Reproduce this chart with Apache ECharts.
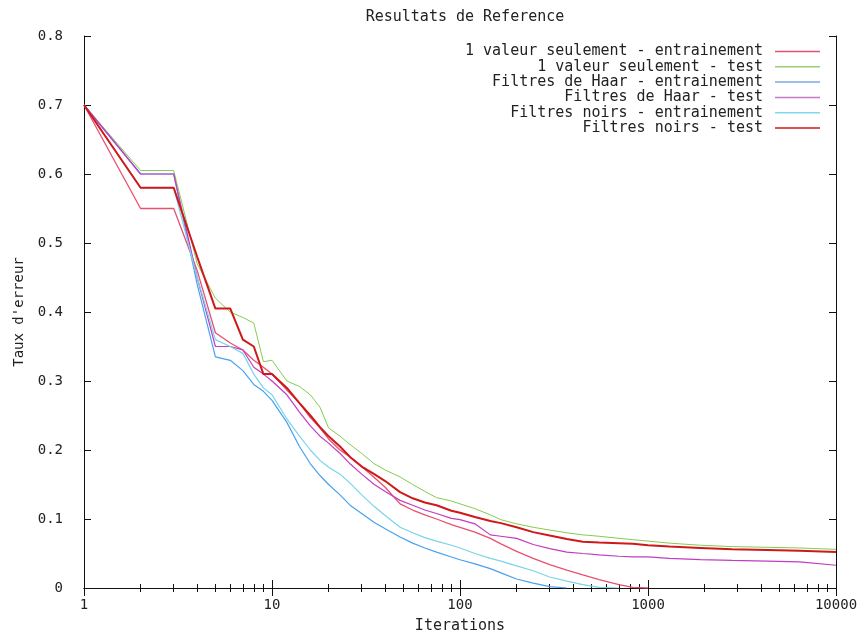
<!DOCTYPE html>
<html><head><meta charset="utf-8">
<script src="https://cdn.jsdelivr.net/npm/echarts@6/dist/echarts.min.js"></script>
<style>html,body{margin:0;padding:0;background:#fff}#c{width:864px;height:635px}</style>
</head><body><div id="c"></div>
<script>
const iterations = [1,2,3,4,5,6,7,8,9,10,12,14,16,18,20,23,26,30,35,40,48,56,65,75,90,100,120,145,165,200,245,300,370,450,550,700,830,1000,1300,1900,2800,4300,6400,10000];
const valeurEntrainement = [0.70,0.55,0.55,0.46,0.37,0.355,0.345,0.33,0.32,0.31,0.287,0.268,0.247,0.232,0.216,0.2,0.19,0.176,0.16,0.146,0.122,0.113,0.106,0.1,0.092,0.088,0.081,0.072,0.064,0.053,0.043,0.034,0.026,0.019,0.012,0.005,0.001,0];
const valeurTest = [0.70,0.605,0.605,0.47,0.42,0.40,0.392,0.384,0.328,0.33,0.30,0.292,0.28,0.262,0.232,0.22,0.208,0.195,0.18,0.171,0.161,0.15,0.14,0.131,0.126,0.122,0.115,0.106,0.099,0.093,0.088,0.084,0.080,0.077,0.075,0.072,0.070,0.068,0.065,0.062,0.060,0.059,0.058,0.056];
const haarEntrainement = [0.70,0.60,0.60,0.44,0.335,0.33,0.315,0.295,0.285,0.272,0.24,0.205,0.18,0.163,0.15,0.135,0.12,0.108,0.095,0.086,0.074,0.065,0.058,0.052,0.045,0.041,0.035,0.028,0.022,0.013,0.007,0.002,0];
const haarTest = [0.70,0.60,0.60,0.45,0.35,0.35,0.345,0.32,0.31,0.30,0.28,0.255,0.235,0.22,0.21,0.195,0.18,0.165,0.15,0.14,0.127,0.12,0.113,0.108,0.101,0.099,0.093,0.077,0.075,0.072,0.063,0.057,0.052,0.05,0.048,0.046,0.045,0.045,0.043,0.041,0.04,0.039,0.038,0.033];
const noirsEntrainement = [0.70,0.58,0.58,0.45,0.36,0.35,0.34,0.31,0.29,0.28,0.245,0.22,0.2,0.185,0.175,0.165,0.152,0.135,0.118,0.105,0.088,0.08,0.073,0.068,0.062,0.058,0.05,0.043,0.039,0.032,0.025,0.016,0.01,0.005,0.001,0];
const noirsTest = [0.70,0.58,0.58,0.48,0.405,0.405,0.36,0.35,0.31,0.31,0.29,0.268,0.25,0.233,0.22,0.205,0.19,0.176,0.165,0.155,0.139,0.13,0.124,0.12,0.112,0.109,0.103,0.097,0.094,0.088,0.081,0.076,0.071,0.067,0.066,0.065,0.064,0.062,0.06,0.058,0.056,0.055,0.054,0.052];
const seriesNames = ['1 valeur seulement - entrainement','1 valeur seulement - test','Filtres de Haar - entrainement','Filtres de Haar - test','Filtres noirs - entrainement','Filtres noirs - test'];
const xTickLabels = ['1','10','100','1000','10000'];

const FONT = 'DejaVu Sans Mono';
const TXT = '#222';
const seriesValues = [valeurEntrainement, valeurTest, haarEntrainement, haarTest, noirsEntrainement, noirsTest];
const seriesColors = ['#e8506e','#84cc50','#4aa0f0','#c23cc2','#78d4ea','#d01818'];
const legendColors = ['#e8506e','#9ad070','#80a8e0','#c878c8','#80d8ea','#d01818'];
const seriesWidths = [1.3,1,1.2,1.2,1.2,2];

function pts(ys){ return ys.map((y,i)=>[iterations[i], y]); }

const chart = echarts.init(document.getElementById('c'), null, {renderer:'canvas'});
const axisCommon = {
  type:'log', logBase:10, min:1, max:10000,
  axisLine:{show:true, lineStyle:{color:'#111', width:1}},
  axisTick:{show:true, inside:true, length:8, lineStyle:{color:'#111'}},
  minorTick:{show:true, splitNumber:9, length:4, lineStyle:{color:'#111'}},
  splitLine:{show:false}, minorSplitLine:{show:false}
};
const yCommon = {
  type:'value', min:0, max:0.8, interval:0.1,
  axisLine:{show:true, lineStyle:{color:'#111', width:1}},
  axisTick:{show:true, inside:true, length:7, lineStyle:{color:'#111'}},
  splitLine:{show:false}
};
const option = {
  animation:false,
  backgroundColor:'#fff',
  title:{text:'Resultats de Reference', left:460, top:5, textAlign:'center',
    textStyle:{fontFamily:FONT, fontSize:15, fontWeight:'normal', color:TXT}},
  legend:{
    orient:'vertical', right:39, top:39, align:'right',
    itemWidth:45, itemHeight:1.5, itemGap:0.3, icon:'rect',
    data:seriesNames.map((n,i)=>({name:n, itemStyle:{color:legendColors[i]}})),
    textStyle:{fontFamily:FONT, fontSize:15, color:TXT, lineHeight:15, padding:[0,7,0,0]}
  },
  grid:{left:84, right:28, top:36, bottom:47, containLabel:false, outerBoundsMode:'none'},
  xAxis:[
    Object.assign({}, axisCommon, {
      position:'bottom', name:'Iterations', nameLocation:'middle', nameGap:31,
      nameTextStyle:{fontFamily:FONT, fontSize:15, color:TXT},
      axisLabel:{show:true, margin:10, fontFamily:FONT, fontSize:14, color:TXT,
        formatter:(v)=>{ const i = Math.round(Math.log10(v)); return xTickLabels[i] !== undefined ? xTickLabels[i] : ''; }}
    }),
    Object.assign({}, axisCommon, {position:'top', axisLabel:{show:false}})
  ],
  yAxis:[
    Object.assign({}, yCommon, {
      position:'left', name:"Taux d'erreur", nameLocation:'middle', nameGap:50, nameRotate:90,
      nameTextStyle:{fontFamily:FONT, fontSize:14, color:TXT},
      axisLabel:{margin:21, fontFamily:FONT, fontSize:14, color:TXT}
    }),
    Object.assign({}, yCommon, {position:'right', axisLabel:{show:false}})
  ],
  series: seriesNames.map((n,i)=>({
    name:n, type:'line', xAxisIndex:0, yAxisIndex:0,
    data:pts(seriesValues[i]), showSymbol:false, symbol:'none',
    lineStyle:{color:seriesColors[i], width:seriesWidths[i]},
    itemStyle:{color:seriesColors[i]},
    z: 2 + i
  }))
};
chart.setOption(option);
</script></body></html>
